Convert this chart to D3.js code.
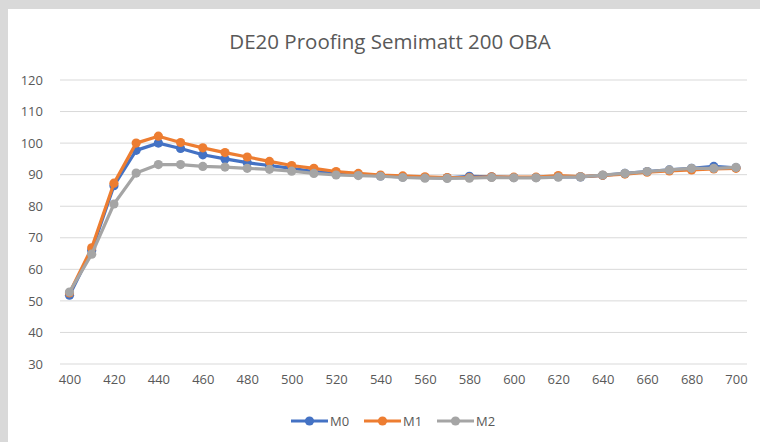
<!DOCTYPE html>
<html><head><meta charset="utf-8">
<script src="https://cdn.jsdelivr.net/npm/d3@7"></script>
<style>html,body{margin:0;padding:0;background:#d9d9d9;}svg{display:block;}</style>
</head><body>
<svg id="c" width="760" height="442"></svg>
<script>
const wavelengths = d3.range(400, 701, 10);
const xTickLabels = d3.range(400, 701, 20);
const yTicks = [30,40,50,60,70,80,90,100,110,120];
const seriesNames = ["M0","M1","M2"];
const seriesColors = ["#4472C4","#ED7D31","#A5A5A5"];
const m0 = [51.8,66.0,86.5,97.7,100.0,98.3,96.3,95.0,93.8,92.9,92.0,91.0,90.4,90.0,89.6,89.3,89.1,89.0,89.5,89.3,89.1,89.1,89.4,89.3,89.8,90.4,91.0,91.5,92.0,92.6,92.2];
const m1 = [52.5,66.8,87.3,100.0,102.2,100.2,98.5,97.0,95.6,94.2,92.9,92.0,91.0,90.4,89.9,89.6,89.3,89.1,89.1,89.3,89.2,89.2,89.7,89.4,89.8,90.2,90.8,91.2,91.5,91.8,92.0];
const m2 = [52.8,64.8,80.7,90.5,93.2,93.2,92.6,92.4,92.0,91.7,91.1,90.4,89.9,89.7,89.5,89.1,88.9,88.8,88.9,89.1,89.0,89.0,89.2,89.3,89.9,90.4,91.0,91.5,92.0,92.0,92.3];
const title = "DE20 Proofing Semimatt 200 OBA";

const series = [m0,m1,m2].map((v,i)=>({name:seriesNames[i], color:seriesColors[i], values:v}));
const font = "'Open Sans', 'Noto Sans', sans-serif";
const svg = d3.select("#c");
svg.append("rect").attr("x",8).attr("y",9).attr("width",752).attr("height",433).attr("fill","#fff");

const gridL = 60, gridR = 747;
const x = d3.scalePoint().domain(wavelengths).range([69.5, 736]);
const y = d3.scaleLinear().domain([30,120]).range([364, 80]);

svg.append("text").attr("x",390).attr("y",49).attr("text-anchor","middle")
  .attr("font-family",font).attr("font-size",20.5).attr("fill","#595959").text(title);

// grid
svg.append("g").selectAll("line").data(yTicks).join("line")
  .attr("x1",gridL).attr("x2",gridR).attr("y1",d=>y(d)).attr("y2",d=>y(d))
  .attr("stroke","#d9d9d9").attr("stroke-width",1);

// y axis labels
const ya = svg.append("g").attr("transform",`translate(${gridL},0)`)
  .call(d3.axisLeft(y).tickValues(yTicks).tickSize(0).tickPadding(17));
ya.select(".domain").remove();
ya.selectAll("text").attr("font-family",font).attr("font-size",13).attr("fill","#595959");

// x axis labels
const xa = svg.append("g").attr("transform",`translate(0,${y(30)})`)
  .call(d3.axisBottom(x).tickValues(xTickLabels).tickSize(0).tickPadding(11));
xa.select(".domain").remove();
xa.selectAll("text").attr("font-family",font).attr("font-size",13).attr("fill","#595959");

const line = d3.line().x((d,i)=>x(wavelengths[i])).y(d=>y(d));
series.forEach(s=>{
  const g = svg.append("g");
  g.append("path").attr("d",line(s.values)).attr("fill","none")
    .attr("stroke",s.color).attr("stroke-width",3.2).attr("stroke-linejoin","round");
  g.selectAll("circle").data(s.values).join("circle")
    .attr("cx",(d,i)=>x(wavelengths[i])).attr("cy",d=>y(d)).attr("r",4.6).attr("fill",s.color);
});

// legend
const legX = [291, 364, 437];
const lg = svg.append("g");
series.forEach((s,i)=>{
  const gx = legX[i], gy = 421;
  lg.append("line").attr("x1",gx).attr("x2",gx+37).attr("y1",gy).attr("y2",gy)
    .attr("stroke",s.color).attr("stroke-width",3.2);
  lg.append("circle").attr("cx",gx+18.5).attr("cy",gy).attr("r",4.6).attr("fill",s.color);
  lg.append("text").attr("x",gx+39).attr("y",gy+4.5).attr("font-family",font)
    .attr("font-size",13).attr("fill","#595959").text(s.name);
});
</script>
</body></html>
